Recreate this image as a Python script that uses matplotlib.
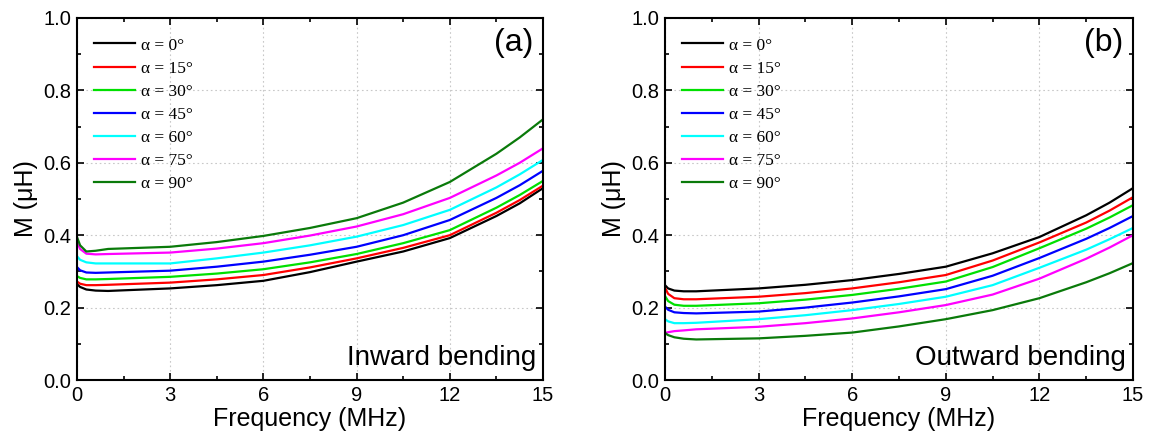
import matplotlib
matplotlib.use("Agg")
import matplotlib.pyplot as plt
from matplotlib.ticker import MultipleLocator

# ---------------- data ----------------
freq = [0, 0.1, 0.3, 0.6, 1, 3, 4.5, 6, 7.5, 9, 10.5, 12, 13.5, 14.25, 15]

angles = [0, 15, 30, 45, 60, 75, 90]
colors = ["#000000", "#ff0000", "#00e000", "#0000ff", "#00ffff", "#ff00ff", "#0a7a0a"]

inward = {
    0:  [0.265, 0.257, 0.250, 0.247, 0.246, 0.253, 0.262, 0.274, 0.298, 0.327, 0.355, 0.392, 0.453, 0.488, 0.530],
    15: [0.272, 0.266, 0.262, 0.262, 0.263, 0.269, 0.278, 0.290, 0.311, 0.336, 0.365, 0.400, 0.462, 0.497, 0.537],
    30: [0.287, 0.282, 0.278, 0.278, 0.279, 0.285, 0.294, 0.306, 0.325, 0.348, 0.378, 0.414, 0.476, 0.511, 0.550],
    45: [0.312, 0.303, 0.297, 0.296, 0.297, 0.302, 0.313, 0.327, 0.346, 0.368, 0.400, 0.442, 0.503, 0.538, 0.578],
    60: [0.342, 0.332, 0.325, 0.322, 0.322, 0.322, 0.336, 0.352, 0.372, 0.396, 0.428, 0.470, 0.532, 0.568, 0.608],
    75: [0.382, 0.362, 0.349, 0.347, 0.348, 0.352, 0.363, 0.378, 0.399, 0.424, 0.458, 0.503, 0.565, 0.600, 0.640],
    90: [0.395, 0.372, 0.355, 0.357, 0.362, 0.368, 0.381, 0.398, 0.420, 0.447, 0.490, 0.547, 0.625, 0.670, 0.720],
}

outward = {
    0:  [0.262, 0.253, 0.247, 0.245, 0.245, 0.253, 0.263, 0.276, 0.293, 0.313, 0.350, 0.395, 0.455, 0.490, 0.530],
    15: [0.255, 0.238, 0.226, 0.223, 0.223, 0.230, 0.240, 0.253, 0.270, 0.290, 0.330, 0.380, 0.435, 0.468, 0.505],
    30: [0.232, 0.218, 0.208, 0.205, 0.205, 0.212, 0.222, 0.235, 0.252, 0.272, 0.312, 0.364, 0.418, 0.449, 0.483],
    45: [0.203, 0.194, 0.187, 0.185, 0.184, 0.189, 0.200, 0.214, 0.231, 0.251, 0.288, 0.337, 0.390, 0.420, 0.453],
    60: [0.168, 0.162, 0.157, 0.157, 0.158, 0.168, 0.179, 0.193, 0.210, 0.230, 0.262, 0.310, 0.360, 0.389, 0.420],
    75: [0.130, 0.132, 0.135, 0.137, 0.140, 0.147, 0.157, 0.170, 0.187, 0.207, 0.236, 0.280, 0.335, 0.366, 0.400],
    90: [0.130, 0.124, 0.118, 0.114, 0.112, 0.115, 0.122, 0.131, 0.148, 0.168, 0.193, 0.226, 0.270, 0.295, 0.323],
}

panel_tags = ["(a)", "(b)"]
panel_notes = ["Inward bending", "Outward bending"]
x_ticks = [0, 3, 6, 9, 12, 15]
y_ticks = [0.0, 0.2, 0.4, 0.6, 0.8, 1.0]

# ---------------- figure ----------------
plt.rcParams["font.family"] = ["Liberation Sans", "DejaVu Sans"]
fig = plt.figure(figsize=(11.49, 4.45), dpi=100)
W, H = 1149, 445
ax_a = fig.add_axes([77 / W, 1 - 380 / H, 466 / W, 362 / H])
ax_b = fig.add_axes([665 / W, 1 - 380 / H, 468 / W, 362 / H])

for ax, data, tag, note in zip([ax_a, ax_b], [inward, outward], panel_tags, panel_notes):
    for ang, col in zip(angles, colors):
        ax.plot(freq, data[ang], color=col, lw=1.6, label=f"α = {ang}°")
    ax.set_xlim(0, 15)
    ax.set_ylim(0, 1.0)
    ax.set_xticks(x_ticks)
    ax.set_yticks(y_ticks)
    ax.xaxis.set_minor_locator(MultipleLocator(1.5))
    ax.yaxis.set_minor_locator(MultipleLocator(0.1))
    ax.tick_params(which="both", direction="in", top=True, right=True, width=1.2)
    ax.tick_params(which="major", length=5, labelsize=14.5, pad=4)
    ax.tick_params(which="minor", length=3)
    ax.grid(True, which="major", ls=(0, (1.5, 2.5)), color="#c8c8c8", lw=0.8)
    for s in ax.spines.values():
        s.set_linewidth(1.5)
    ax.set_xlabel("Frequency (MHz)", fontsize=18, labelpad=2)
    ax.set_ylabel("M (μH)", fontsize=18, labelpad=4)
    ax.text(0.98, 0.93, tag, transform=ax.transAxes, ha="right", va="center", fontsize=23)
    ax.text(0.985, 0.025, note, transform=ax.transAxes, ha="right", va="bottom", fontsize=20)
    leg = ax.legend(loc="upper left", bbox_to_anchor=(0.01, 0.98), frameon=False,
                    prop={"family": "Liberation Serif", "size": 12.5},
                    handlelength=2.4, handletextpad=0.3, labelspacing=0.4,
                    borderaxespad=0.3)

fig.savefig("out.png", dpi=100)
